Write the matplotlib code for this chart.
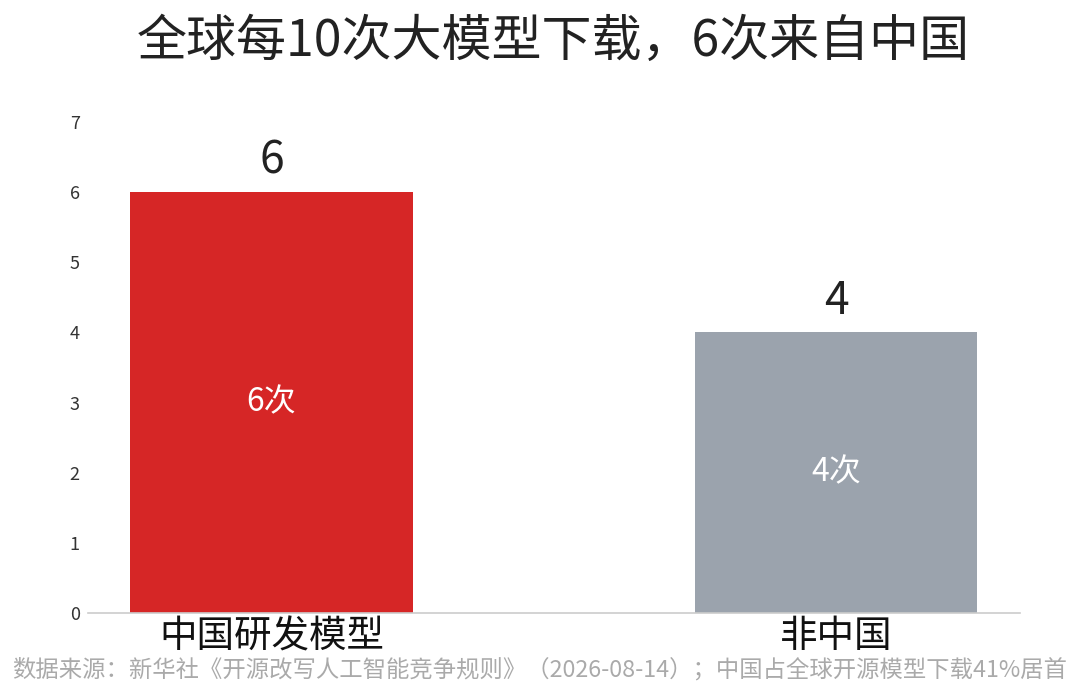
import matplotlib
matplotlib.use("Agg")
import matplotlib.pyplot as plt

plt.rcParams['font.family'] = ['Noto Sans CJK SC', 'DejaVu Sans']

# data
categories = ['中国研发模型', '非中国']
values = [6, 4]
inner_labels = ['6次', '4次']
bar_colors = ['#d62626', '#9ba3ad']
title = '全球每10次大模型下载，6次来自中国'
source = '数据来源：新华社《开源改写人工智能竞争规则》（2026-08-14）；中国占全球开源模型下载41%居首'

fig = plt.figure(figsize=(10.8, 6.91), dpi=100)
ax = fig.add_axes([0.0815, 0.1129, 0.8625, 0.7105])

x = list(range(len(categories)))
ax.bar(x, values, width=0.5, color=bar_colors)

for i, v in enumerate(values):
    ax.text(i, v + 0.12, str(v), ha='center', va='bottom', fontsize=32, color='#222222')
    ax.text(i, v / 2, inner_labels[i], ha='center', va='center', fontsize=23, color='white')

ax.set_xlim(-0.325, 1.325)
ax.set_ylim(0, 7)
ax.set_yticks(range(0, 8))
ax.set_xticks(x)
ax.set_xticklabels(categories, fontsize=27, color='#111111')
ax.tick_params(axis='y', length=0, labelsize=13, labelcolor='#333333', pad=6)
ax.tick_params(axis='x', length=0, pad=3)

for s in ['top', 'right', 'left']:
    ax.spines[s].set_visible(False)
ax.spines['bottom'].set_color('#cccccc')
ax.spines['bottom'].set_linewidth(1.2)

fig.text(0.512, 0.94, title, ha='center', va='center', fontsize=36, color='#222222')
fig.text(0.5, 0.03, source, ha='center', va='center', fontsize=16.8, color='#aaaaaa')

fig.savefig('out.png', dpi=100)
